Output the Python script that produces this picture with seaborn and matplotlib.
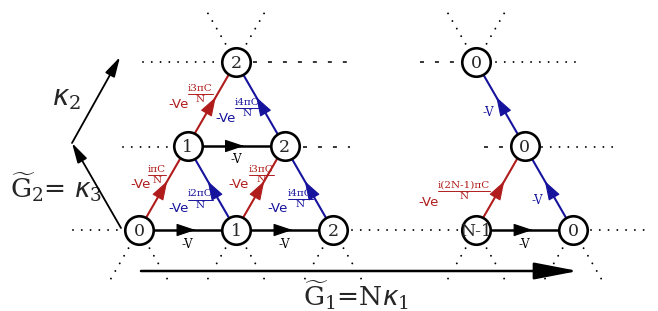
import numpy as np
import pandas as pd
import seaborn as sns
import matplotlib.pyplot as plt
from matplotlib.patches import FancyArrowPatch

# lattice sites (column in bond lengths, row index)
site_label = ['0', '1', '2', 'N-1', '0', '1', '2', '0', '2', '0']
site_col = [0, 1, 2, 3.475, 4.475, 0.5, 1.5, 3.975, 1, 3.475]
site_row = [0, 0, 0, 0, 0, 1, 1, 1, 2, 2]

# hoppings (from site, to site)
black_bonds = [(0, 1), (1, 2), (3, 4), (5, 6)]
red_bonds = [(0, 5), (1, 6), (5, 8), (3, 7)]
blue_bonds = [(1, 5), (2, 6), (6, 8), (4, 7), (7, 9)]
red_phase = ['iπC', 'i3πC', 'i3πC', 'i(2N-1)πC']
blue_phase = ['i2πC', 'i4πC', 'i4πC', None, None]

RED = '#b01c1c'
BLUE = '#16139c'

sns.set_style('white')
plt.rcParams['font.family'] = ['DejaVu Sans']
plt.rcParams['mathtext.fontset'] = 'custom'
plt.rcParams['mathtext.rm'] = 'DejaVu Serif'
plt.rcParams['mathtext.it'] = 'DejaVu Sans:italic'
plt.rcParams['mathtext.bf'] = 'DejaVu Serif:bold'

X0, Y0, A = 139, 230, 97.0


def P(x, y):
    """pixel position -> lattice data coords"""
    return ((x - X0) / A, (Y0 - y) / A)


df = pd.DataFrame({'label': site_label, 'col': site_col, 'row': site_row})
df['x'] = df['col']
df['y'] = df['row'] * np.sqrt(3) / 2
pos = df[['x', 'y']].to_numpy()

fig = plt.figure(figsize=(6.58, 3.11), dpi=100)
ax = fig.add_axes([0, 0, 1, 1])
ax.set_xlim(P(0, 0)[0], P(658, 0)[0])
ax.set_ylim(P(0, 311)[1], P(0, 0)[1])
ax.axis('off')
renderer = fig.canvas.get_renderer()

dots = dict(color='black', lw=1.4, ls=(0, (0.01, 4.5)), dash_capstyle='round', zorder=1)
dashes = dict(color='black', lw=1.1, ls=(0, (2.6, 7.2)), zorder=1)


def hline(x1, x2, y, style):
    a, b = P(x1, y), P(x2, y)
    ax.plot([a[0], b[0]], [a[1], b[1]], **style)


# horizontal guides
for x1, x2, y in [(73, 123, 230), (352, 460, 230), (591, 652, 230),
                  (123, 172, 147), (542, 618, 147), (143, 221, 62), (496, 575, 62)]:
    hline(x1, x2, y, dots)
for x1, x2, y in [(303, 350, 147), (484, 510, 147), (253, 352, 62), (420, 462, 62)]:
    hline(x1, x2, y, dashes)

# diagonal guides below bottom row and above top row
r1, r2 = 21 / A, 58 / A
for i in range(len(df)):
    if site_row[i] == 0:
        angles = [240, 300]
    elif site_row[i] == 2:
        angles = [60, 120]
    else:
        continue
    for ang in angles:
        d = np.array([np.cos(np.radians(ang)), np.sin(np.radians(ang))])
        p1, p2 = pos[i] + d * r1, pos[i] + d * r2
        ax.plot([p1[0], p2[0]], [p1[1], p2[1]], **dots)


def bond(i, j, color, lw):
    a, b = pos[i], pos[j]
    ax.plot([a[0], b[0]], [a[1], b[1]], color=color, lw=lw, zorder=2, solid_capstyle='butt')
    d = (b - a) / np.linalg.norm(b - a)
    tip = (a + b) / 2 + d * 8 / A
    ax.add_patch(FancyArrowPatch(tip - d * 0.05, tip, arrowstyle='-|>,head_length=12,head_width=4',
                                 mutation_scale=1, color=color, lw=0.8, zorder=3))
    return (a + b) / 2


for i, j in black_bonds:
    m = bond(i, j, 'black', 1.8)
    ax.text(m[0], m[1] - 14 / A, '-V', ha='center', va='center', fontsize=8.5,
            family='DejaVu Serif', color='black')
for i, j in red_bonds:
    bond(i, j, RED, 1.5)
for i, j in blue_bonds:
    bond(i, j, BLUE, 1.5)

# hopping labels: (-Ve left x, centre y, fraction left x, fraction bar y)
red_txt = [(130, 185, 148, 175), (228, 184, 249, 174.5), (168, 104, 188, 94), (418, 202, 438, 191)]
blue_txt = [(168, 209, 188, 199.5), (267, 209, 288, 199), (215, 119, 235, 108), (537, 201), (488, 113)]


def hop_label(spec, phase, color):
    if phase is None:
        ax.text(*P(spec[0], spec[1]), '-V', ha='center', va='center', fontsize=8.5,
                family='DejaVu Serif', color=color)
        return
    ax.text(*P(spec[0], spec[1]), '-Ve', ha='left', va='center', fontsize=9.5, color=color)
    fx, by = spec[2], spec[3]
    num = ax.text(*P(fx, by - 1), phase, ha='left', va='bottom', fontsize=7.5,
                  family='DejaVu Serif', color=color)
    w = num.get_window_extent(renderer).width
    ax.plot([P(fx, by)[0], P(fx + w, by)[0]], [P(fx, by)[1]] * 2, color=color, lw=0.7)
    ax.text(*P(fx + w / 2, by + 1), 'N', ha='center', va='top', fontsize=7.5,
            family='DejaVu Serif', color=color)


for spec, ph in zip(red_txt, red_phase):
    hop_label(spec, ph, RED)
for spec, ph in zip(blue_txt, blue_phase):
    hop_label(spec, ph, BLUE)

# sites
sns.scatterplot(data=df, x='x', y='y', s=420, color='white', edgecolor='black',
                linewidth=1.9, zorder=5, ax=ax, legend=False)
for _, r in df.iterrows():
    ax.text(r['x'], r['y'], r['label'], ha='center', va='center_baseline', fontsize=12.5,
            family='DejaVu Serif', zorder=6)


# reciprocal lattice vectors
def vec(p1, p2, lw, hl, hw):
    ax.add_patch(FancyArrowPatch(P(*p1), P(*p2), arrowstyle=f'-|>,head_length={hl},head_width={hw}',
                                 mutation_scale=1, color='black', lw=lw, shrinkA=0, shrinkB=0, zorder=4))


vec((121, 228), (72, 143), 1.3, 12, 3.2)
vec((72, 143), (120, 57), 1.3, 12, 3.2)
vec((141, 271), (578, 271), 1.8, 27, 5.2)

ax.text(*P(52, 105), r'$\kappa_2$', ha='left', va='baseline', fontsize=20)
ax.text(*P(10, 197), r'$\widetilde{\mathrm{G}}_2$= $\kappa_3$', ha='left', va='baseline',
        fontsize=19, family='DejaVu Serif')
ax.text(*P(303, 306), r'$\widetilde{\mathrm{G}}_1$=N$\kappa_1$', ha='left', va='baseline',
        fontsize=19, family='DejaVu Serif')

fig.savefig('out.png', dpi=100)
